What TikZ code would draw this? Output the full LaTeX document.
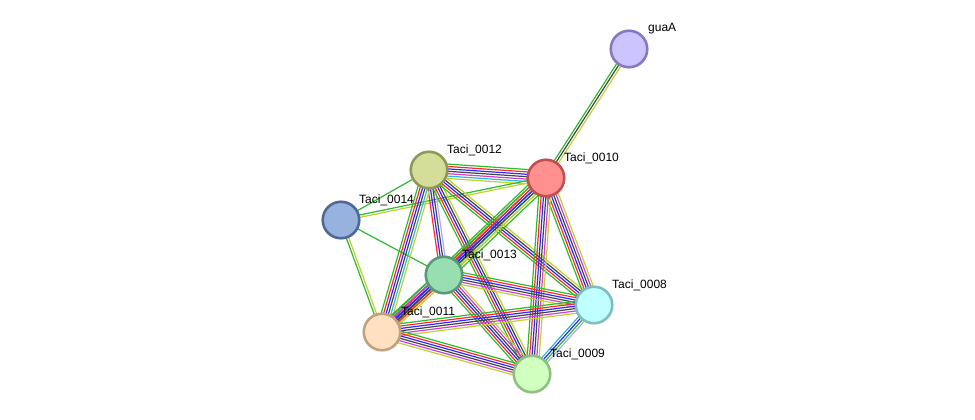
\documentclass[tikz,border=0pt]{standalone}
\usepackage{fontspec}
\setmainfont{Liberation Sans}
\usetikzlibrary{calc}
\pgfdeclarelayer{bg}
\pgfsetlayers{bg,main}
\definecolor{nb}{HTML}{2EBB2E}
\definecolor{fu}{HTML}{FF2A2A}
\definecolor{co}{HTML}{2A2AFF}
\definecolor{cx}{HTML}{444444}
\definecolor{ex}{HTML}{D040D0}
\definecolor{db}{HTML}{30B8D8}
\definecolor{tm}{HTML}{BED232}
\definecolor{ho}{HTML}{A8A8FF}
\definecolor{fA}{HTML}{CCC4FF}\definecolor{dA}{HTML}{8878C0}
\definecolor{fB}{HTML}{FF9090}\definecolor{dB}{HTML}{C05050}
\definecolor{fC}{HTML}{D4DE98}\definecolor{dC}{HTML}{909858}
\definecolor{fD}{HTML}{98B2E0}\definecolor{dD}{HTML}{506898}
\definecolor{fE}{HTML}{98DEB0}\definecolor{dE}{HTML}{589A78}
\definecolor{fF}{HTML}{C0FFFF}\definecolor{dF}{HTML}{80BEBE}
\definecolor{fG}{HTML}{FFE0C0}\definecolor{dG}{HTML}{C0A27E}
\definecolor{fH}{HTML}{D0FFC0}\definecolor{dH}{HTML}{90C080}
\newcommand\stredge[4]{%
  \foreach \c [count=\i] in {#4} {%
    \pgfmathsetmacro\off{(\i-(#3+1)/2)*2.4}%
    \draw[\c, line width=1.2pt] ($(#1)!\off pt!90:(#2)$) -- ($(#2)!\off pt!-90:(#1)$);
  }}
\tikzset{
  prot/.style 2 args={circle, minimum size=36.5pt, inner sep=0pt, line width=2.6pt, fill=#1, draw=#2},
  lab/.style={anchor=west, font=\fontsize{12}{14}\selectfont, inner sep=0pt, text=black}
}
\begin{document}
\begin{tikzpicture}[x=1pt,y=-1pt]
\useasboundingbox (0,0) rectangle (975,420);
% proteins
\node[prot={fA}{dA}] (guaA) at (629,49) {};
\node[prot={fB}{dB}] (p10) at (546,178) {};
\node[prot={fC}{dC}] (p12) at (429,170) {};
\node[prot={fD}{dD}] (p14) at (341,220) {};
\node[prot={fE}{dE}] (p13) at (444,275) {};
\node[prot={fF}{dF}] (p08) at (594,305) {};
\node[prot={fG}{dG}] (p11) at (382,332) {};
\node[prot={fH}{dH}] (p09) at (532,374) {};
% labels
\node[lab] (lA) at (648,29) {guaA};
\node[lab] (l10) at (564,158) {Taci\_0010};
\node[lab] (l12) at (447,150) {Taci\_0012};
\node[lab] (l14) at (359,200) {Taci\_0014};
\node[lab] (l13) at (462,255) {Taci\_0013};
\node[lab] (l08) at (612,285) {Taci\_0008};
\node[lab] (l11) at (401,312) {Taci\_0011};
\node[lab] (l09) at (550,354) {Taci\_0009};
% edges
\begin{pgfonlayer}{bg}
\fill[white] (0,0) rectangle (975,420);
\stredge{guaA}{p10}{3}{nb,cx,tm}
\stredge{p12}{p10}{7}{tm,db,ex,cx,co,fu,nb}
\stredge{p14}{p12}{1}{nb}
\stredge{p14}{p10}{2}{tm,nb}
\stredge{p14}{p13}{1}{nb}
\stredge{p14}{p11}{2}{nb,tm}
\stredge{p12}{p13}{4}{fu,co,cx,ho}
\stredge{p12}{p11}{6}{nb,fu,co,cx,db,tm}
\stredge{p12}{p09}{5}{nb,fu,co,cx,tm}
\stredge{p12}{p08}{5}{nb,fu,co,cx,tm}
\stredge{p10}{p13}{7}{nb,fu,co,cx,db,tm,nb}
\stredge{p10}{p11}{5}{nb,fu,co,cx,tm}
\stredge{p10}{p08}{6}{nb,fu,co,cx,ex,tm}
\stredge{p10}{p09}{6}{nb,fu,co,cx,ex,tm}
\stredge{p13}{p08}{6}{tm,ex,cx,co,fu,nb}
\stredge{p13}{p09}{6}{nb,fu,co,cx,ex,tm}
\stredge{p13}{p11}{6}{nb,ex,co,cx,fu,tm}
\stredge{p11}{p08}{6}{tm,ex,cx,co,fu,nb}
\stredge{p11}{p09}{6}{tm,ex,cx,co,fu,nb}
\stredge{p08}{p09}{4}{db,co,nb,ho}
\end{pgfonlayer}
\end{tikzpicture}
\end{document}
